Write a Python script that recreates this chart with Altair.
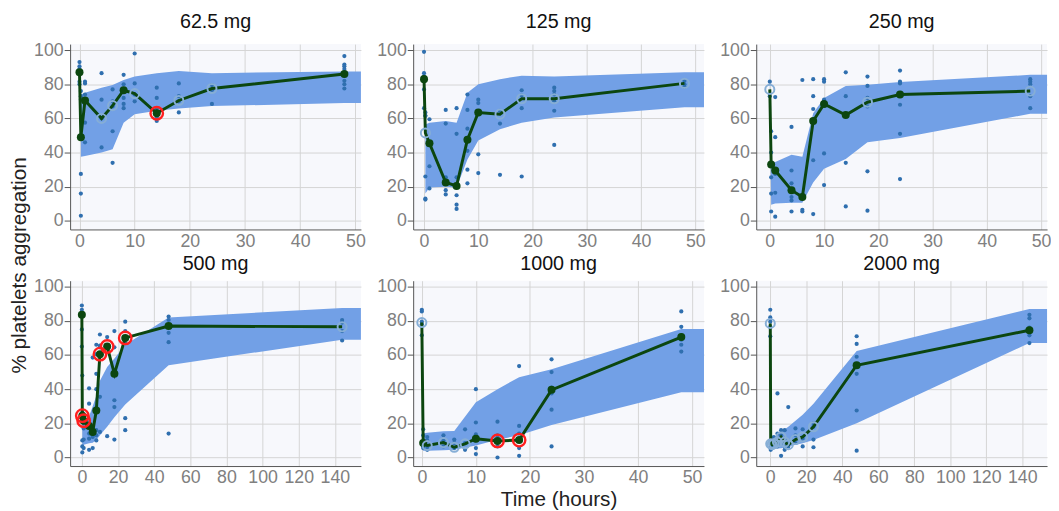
import altair as alt
import pandas as pd

# ---------------- data ----------------
DOSES = ["62.5 mg", "125 mg", "250 mg", "500 mg", "1000 mg", "2000 mg"]

# 62.5 mg
T_62 = [0, 0.25, 1, 4, 6, 8, 10, 14, 18, 24, 48]
MEAN_62 = [87, 49, 70.5, 60, 67.5, 76.5, 74.5, 63, 70.5, 77.5, 86]
STYLE_62 = "gggoogogoog"
RED_62 = [14]
BAND_T_62 = [0.25, 1, 4, 6, 8, 10, 14, 18, 24, 48, 56]
BAND_LO_62 = [37.5, 38, 40, 42, 57.5, 62.5, 64.5, 65.8, 67.2, 69, 69]
BAND_HI_62 = [74, 75, 78, 79.5, 82.5, 84.5, 86.5, 87.8, 86.5, 87.5, 87.5]
OBS_62 = {0: [93, 90.5, 89, 87.5, 86, 81.5, 80], 0.25: [76, 73, 71, 27.5, 16, 3],
          1: [81.5, 80.5, 74, 69.5, 57.5, 46], 4: [86.5, 71, 60, 43],
          6: [77, 70, 67, 52.5, 34], 8: [85.5, 80, 77, 72, 68.5, 66],
          10: [98, 80.5, 74, 70], 14: [78, 72, 66, 60.5, 58.5],
          18: [80.5, 73, 70, 63.5], 24: [79.5, 76.5, 68.5],
          48: [96.5, 91.5, 90.5, 89, 85, 82, 80, 77.5]}

# 125 mg
T_125 = [0, 0.25, 1, 4, 6, 8, 10, 14, 18, 24, 48]
MEAN_125 = [83, 51.5, 45.5, 22.5, 20.5, 47.5, 63.5, 62.5, 71.5, 71.5, 80.5]
STYLE_125 = "gogggggoooo"
RED_125 = []
BAND_T_125 = [0.25, 1, 4, 6, 8, 10, 14, 18, 24, 48, 56]
BAND_LO_125 = [16, 19.5, 20, 19.5, 36, 47, 53.7, 57.5, 60.5, 66.5, 66.5]
BAND_HI_125 = [56.5, 57.5, 58.5, 57.5, 75, 80, 83, 85, 84.5, 87, 87]
OBS_125 = {0: [99, 86.5, 84.5, 82.5, 77, 66], 0.25: [63.5, 61.5, 61.5, 26, 13, 12.5],
           1: [59.5, 32, 19], 4: [65, 57, 25.5, 23.5, 18, 15.5],
           6: [66, 51, 25.5, 15, 9.5, 7], 8: [74, 65, 54, 41, 30, 22],
           10: [71, 69, 39, 28], 14: [64.5, 57, 27], 18: [76.5, 73.5, 66, 26],
           24: [78, 76, 74, 70, 64.5, 44.5], 48: [82, 80, 78.5]}

# 250 mg
T_250 = [0, 0.25, 1, 4, 6, 8, 10, 14, 18, 24, 48]
MEAN_250 = [77, 33, 29.5, 18, 14, 58.5, 68.5, 62, 69.5, 74, 76]
STYLE_250 = "ogggggggogo"
RED_250 = []
BAND_T_250 = [0, 0.25, 1, 4, 6, 8, 10, 14, 18, 24, 48, 56]
BAND_LO_250 = [62, 9.5, 10.2, 10.6, 10.6, 22.5, 30.5, 36.3, 46, 48.5, 62.7, 62.7]
BAND_HI_250 = [88, 33.5, 34.5, 38.8, 37.6, 63, 72, 79, 79.7, 81.3, 85.5, 85.5]
OBS_250 = {0: [81.5, 73], 0.25: [52.5, 40, 25.5, 16, 5.5],
           1: [72.5, 49, 27.5, 16.5, 2.5], 4: [55, 29.5, 22, 14, 12, 5.5],
           6: [82.5, 15, 6.5, 5.5], 8: [83, 73, 65.5, 35.5, 4],
           10: [83, 81.5, 71, 70, 39.5, 21], 14: [87, 73, 34, 8.5],
           18: [84.5, 79, 72, 67, 29, 6], 24: [88, 81.5, 80.5, 68, 51, 24.5],
           48: [83, 81.5, 80, 73, 66]}

# 500 mg
T_500 = [0, 0.25, 1, 4, 6, 8, 10, 14, 18, 24, 48, 144]
MEAN_500 = [83.5, 24.5, 21.5, 18.5, 15, 27.5, 60.5, 65, 49, 70, 77, 76.5]
STYLE_500 = "gggggggggggo"
RED_500 = [0.25, 1, 10, 14, 24]
BAND_T_500 = [0.25, 1, 4, 6, 8, 10, 14, 18, 24, 48, 144, 170]
BAND_LO_500 = [7, 7.5, 8.3, 8.7, 10.2, 13, 18, 23.5, 31, 54, 69, 69]
BAND_HI_500 = [20, 20.5, 24, 30, 36, 45, 53, 58, 66, 82, 87.5, 87.5]
OBS_500 = {0: [89, 86.5, 84.5, 75, 65], 0.25: [48, 26.5, 10, 6.5, 3],
           1: [20, 17, 10.5, 5.5], 4: [40.5, 31.5, 20.5, 14, 11, 4.5],
           6: [58.5, 17, 13, 12, 5.5], 8: [66, 60.5, 49, 40, 16, 13, 10],
           10: [72, 65.5, 64.5, 35.5, 15], 14: [70.5, 64.5, 12.5],
           18: [74, 64.5, 33.5, 29.5, 10.5], 24: [79.5, 74, 67, 23, 16],
           48: [82.5, 80.5, 73, 67.5, 14], 144: [80.5, 79, 74, 68.5]}

# 1000 mg
T_1000 = [0, 0.25, 1, 4, 6, 8, 10, 14, 18, 24, 48]
MEAN_1000 = [79, 8.5, 7, 8.7, 6, 8, 11, 9.7, 10.2, 39.6, 70.5]
STYLE_1000 = "ogooooggggg"
RED_1000 = [14, 18]
BAND_T_1000 = [0.25, 1, 4, 6, 10, 14, 18, 24, 48, 56]
BAND_LO_1000 = [4, 4, 4.2, 4.5, 7, 10.4, 13, 19, 38.2, 38.2]
BAND_HI_1000 = [14, 14.5, 15.3, 15.5, 32.4, 40, 47, 51.7, 75.3, 75.3]
OBS_1000 = {0: [86.5, 85.5, 79.5, 78, 71.5], 0.25: [16.5, 13, 6.5, 5.5],
            1: [12, 10, 6.5, 4.5], 4: [13, 10, 6.5], 6: [10.5, 8.5, 5.5],
            8: [16.5, 8.5, 4.5], 10: [40, 20.5, 13.5, 10, 5.5, 2],
            14: [21, 13, 6.5, 0], 18: [53.5, 18.5, 14, 5.5, 1],
            24: [57.5, 50, 41, 37.5, 28, 6.5], 48: [85.5, 76.5, 71.5, 69, 66, 62]}

# 2000 mg
T_2000 = [0, 0.25, 1, 2, 4, 6, 8, 10, 14, 18, 24, 48, 144]
MEAN_2000 = [78.5, 8, 7.5, 8, 9, 12, 9, 7.5, 10.5, 12, 18, 54, 74.5]
STYLE_2000 = "ooooooooooogg"
RED_2000 = []
BAND_T_2000 = [0.25, 1, 4, 6, 10, 18, 24, 48, 144, 170]
BAND_LO_2000 = [5, 5, 5.2, 5.4, 6.4, 8.3, 10.2, 20, 67, 67]
BAND_HI_2000 = [10.5, 11, 13, 15, 18, 25, 31.5, 62.4, 87, 87]
OBS_2000 = {0: [86.5, 82, 79.5, 76.5, 71], 0.25: [10, 9.5, 8, 7.5, 6.5, 4.5],
            1: [11, 8.5, 5.5], 2: [12, 7], 4: [37.5, 14, 9.5, 6.5],
            6: [16, 13, 8.5, 1], 8: [16, 11, 6.5, 4.5], 10: [29.5, 8.5, 6.5],
            14: [17, 13, 8.5], 18: [16.5, 11, 6.5], 24: [20, 18, 10.5, 6],
            48: [71, 66.5, 59, 49, 27.5, 4], 144: [83.5, 81.5, 76, 71.5, 67]}

X_DOMAINS = [[-1.7, 51.0], [-2.0, 51.6], [-2.5, 51.1], [-6.5, 154.4], [-1.6, 52.2], [-7.8, 153.8]]
X_TICKS_48 = [0, 10, 20, 30, 40, 50]
X_TICKS_144 = [0, 20, 40, 60, 80, 100, 120, 140]
Y_TICKS = [0, 20, 40, 60, 80, 100]
Y_DOMAIN = [-5, 103.5]
TITLE_OFFSETS = [9, 9, 9, 4, 4, 4]

BAND_COLOR = "#72a0e6"
DOT_COLOR = "#2f6faf"
GREEN = "#0c460f"
OPEN_COLOR = "#86aed6"
RED = "#ff1f1f"
FONT = "Liberation Sans"

PANELS = [
    (T_62, MEAN_62, STYLE_62, RED_62, BAND_T_62, BAND_LO_62, BAND_HI_62, OBS_62),
    (T_125, MEAN_125, STYLE_125, RED_125, BAND_T_125, BAND_LO_125, BAND_HI_125, OBS_125),
    (T_250, MEAN_250, STYLE_250, RED_250, BAND_T_250, BAND_LO_250, BAND_HI_250, OBS_250),
    (T_500, MEAN_500, STYLE_500, RED_500, BAND_T_500, BAND_LO_500, BAND_HI_500, OBS_500),
    (T_1000, MEAN_1000, STYLE_1000, RED_1000, BAND_T_1000, BAND_LO_1000, BAND_HI_1000, OBS_1000),
    (T_2000, MEAN_2000, STYLE_2000, RED_2000, BAND_T_2000, BAND_LO_2000, BAND_HI_2000, OBS_2000),
]


def make_panel(i):
    t, mean, style, red, bt, blo, bhi, obs = PANELS[i]
    mean_df = pd.DataFrame({"t": t, "v": mean, "s": list(style)})
    mean_df["red"] = mean_df["t"].isin(red)
    band_df = pd.DataFrame({"t": bt, "lo": blo, "hi": bhi})
    obs_rows = [(k, v) for k, vals in obs.items() for v in vals]
    obs_df = pd.DataFrame(obs_rows, columns=["t", "v"])

    xticks = X_TICKS_144 if max(t) > 100 else X_TICKS_48
    x = alt.X("t:Q",
              scale=alt.Scale(domain=X_DOMAINS[i], nice=False, zero=False),
              axis=alt.Axis(values=xticks, title="Time (hours)" if i == 4 else None,
                            titlePadding=2))
    yaxis = alt.Axis(values=Y_TICKS, title=None)
    if i == 0:
        yaxis = alt.Axis(values=Y_TICKS, title="% platelets aggregation",
                         titleY=224, titlePadding=4)
    y = alt.Y("v:Q", scale=alt.Scale(domain=Y_DOMAIN, nice=False, zero=False), axis=yaxis)
    yb = alt.Y("lo:Q", scale=alt.Scale(domain=Y_DOMAIN, nice=False, zero=False), axis=yaxis)

    band = alt.Chart(band_df).mark_area(color=BAND_COLOR, opacity=1, clip=True).encode(
        x=x, y=yb, y2="hi:Q")
    dots = alt.Chart(obs_df).mark_circle(color=DOT_COLOR, size=18, opacity=1).encode(x=x, y=y)
    line = alt.Chart(mean_df).mark_line(color=GREEN, strokeWidth=3).encode(x=x, y=y)
    gpts = alt.Chart(mean_df).transform_filter(alt.datum.s == "g").mark_circle(
        color=GREEN, size=66, opacity=1).encode(x=x, y=y)
    opts = alt.Chart(mean_df).transform_filter(alt.datum.s == "o").mark_point(
        shape="circle", filled=False, color=OPEN_COLOR, strokeWidth=2, size=85, opacity=1
    ).encode(x=x, y=y)
    rpts = alt.Chart(mean_df).transform_filter(alt.datum.red).mark_point(
        shape="circle", filled=False, color=RED, strokeWidth=2.4, size=160, opacity=1
    ).encode(x=x, y=y)
    return alt.layer(band, dots, line, gpts, opts, rpts).properties(
        width=295, height=188, title=alt.TitleParams(DOSES[i], offset=TITLE_OFFSETS[i]))


chart = alt.concat(
    *[make_panel(i) for i in range(6)],
    columns=3, spacing={"row": 52, "column": 53}, bounds="flush",
).properties(
    padding={"left": 0, "top": 1, "right": 0, "bottom": 0}
).configure_view(
    fill="#f7f8fc", stroke=None
).configure_axis(
    domainColor="#555555", domainWidth=1, gridColor="#d4d4d4", gridWidth=1,
    labelColor="#808080", labelFont=FONT, labelFontSize=18,
    tickColor="#555555", titleFont=FONT, titleFontSize=21, titleColor="#222222",
    titleFontWeight="normal",
).configure_axisX(
    ticks=False, labelPadding=3,
).configure_axisY(
    tickSize=6, labelPadding=1,
).configure_title(
    font=FONT, fontSize=20, fontWeight="normal", color="#111111", anchor="middle",
)

chart.save("out.html", embed_options={"renderer": "svg", "actions": False})
